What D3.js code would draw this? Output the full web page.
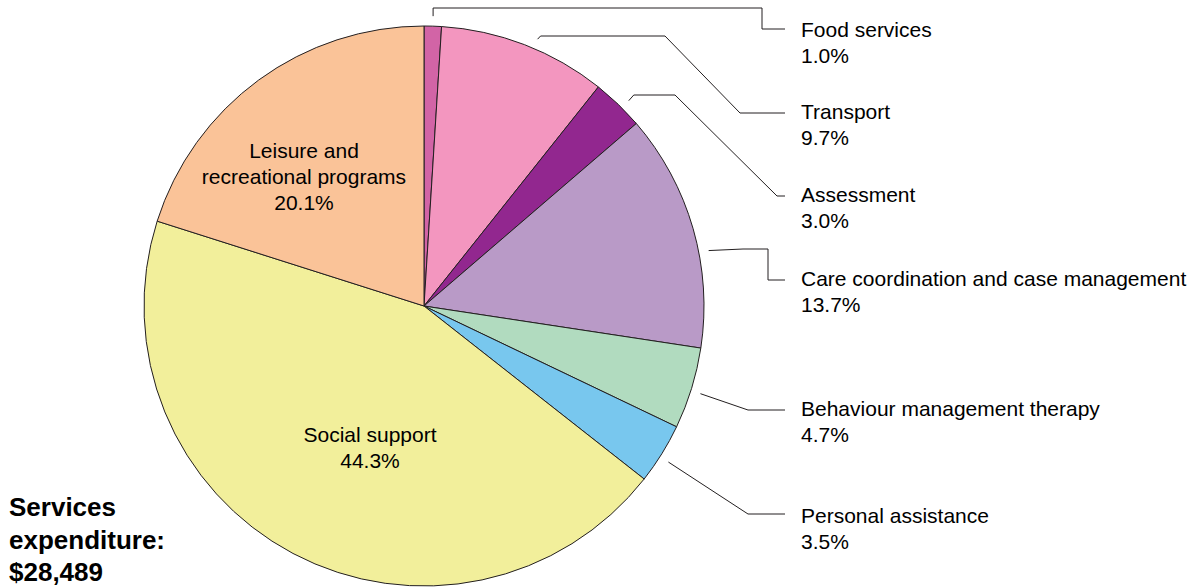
<!DOCTYPE html>
<html><head><meta charset="utf-8">
<script src="https://cdn.jsdelivr.net/npm/d3@7"></script>
<style>body{margin:0;background:#fff;} svg{display:block;font-family:"Liberation Sans",Arial,sans-serif;}</style>
</head><body>
<svg id="c" width="1203" height="587"></svg>
<script>
const categories = ["Food services","Transport","Assessment","Care coordination and case management","Behaviour management therapy","Personal assistance","Social support","Leisure and recreational programs"];
const values = [1.0, 9.7, 3.0, 13.7, 4.7, 3.5, 44.3, 20.1];
const colors = ["#d264a6","#f396bf","#92278f","#b99ac7","#b1dbbf","#78c7ee","#f2ef9b","#fac398"];
const totalLabel = ["Services","expenditure:","$28,489"];

// layout (outside labels): label centre of first line and leader knee points
const outside = [
  {i:0, y:31, path:(s)=>[[s[0],s[1]],[s[0],8],[762,8],[762,29],[785,29]]},
  {i:1, y:113, path:(s)=>[[s[0],s[1]],[s[0]+3,36],[665,36],[740,113],[785,113]]},
  {i:2, y:196, path:(s)=>[[s[0],s[1]],[s[0]+5,95],[675,95],[777,196],[785,196]]},
  {i:3, y:280, path:(s)=>[[s[0],s[1]],[743,249],[768,249],[768,280],[785,280]]},
  {i:4, y:410, path:(s)=>[[s[0],s[1]],[748,410],[785,410]]},
  {i:5, y:517, path:(s)=>[[s[0],s[1]],[748,514],[785,514]]}
];
const startAngleOffset = [0, 2, 1, 5, 0.5, 0.7];

const svg = d3.select("#c");
const cx = 424, cy = 306, R = 280;
const pie = d3.pie().sort(null).value(d=>d)(values);
const arc = d3.arc().innerRadius(0).outerRadius(R);
const g = svg.append("g").attr("transform",`translate(${cx},${cy})`);
g.selectAll("path").data(pie).join("path")
  .attr("d",arc).attr("fill",(d,i)=>colors[i])
  .attr("stroke","#231f20").attr("stroke-width",1);

const fs = 21;
outside.forEach((o,k)=>{
  const d = pie[o.i];
  const a = (d.startAngle+d.endAngle)/2 + startAngleOffset[k]*Math.PI/180;
  const r = 290;
  const s = [cx + r*Math.sin(a), cy - r*Math.cos(a)];
  svg.append("path").attr("d", d3.line()(o.path(s)))
    .attr("fill","none").attr("stroke","#231f20").attr("stroke-width",1);
  const t = svg.append("text").attr("x",801).attr("y",o.y).attr("font-size",fs).attr("fill","#000").attr("dominant-baseline","middle");
  t.append("tspan").attr("x",801).attr("dy",0).text(categories[o.i]);
  t.append("tspan").attr("x",801).attr("dy",26).text(values[o.i].toFixed(1)+"%");
});

// inside labels
const inside = [
  {i:7, x:304, y:152, lines:["Leisure and","recreational programs"]},
  {i:6, x:370, y:436, lines:["Social support"]}
];
inside.forEach(o=>{
  const t = svg.append("text").attr("text-anchor","middle").attr("font-size",fs).attr("dominant-baseline","middle");
  const lines = o.lines.concat([values[o.i].toFixed(1)+"%"]);
  lines.forEach((l,j)=>t.append("tspan").attr("x",o.x).attr("y",o.y+j*26).text(l));
});

const tt = svg.append("text").attr("font-size",26).attr("font-weight","bold").attr("dominant-baseline","middle");
totalLabel.forEach((l,j)=>tt.append("tspan").attr("x",9).attr("y",509+j*32.5).text(l));
</script>
</body></html>
